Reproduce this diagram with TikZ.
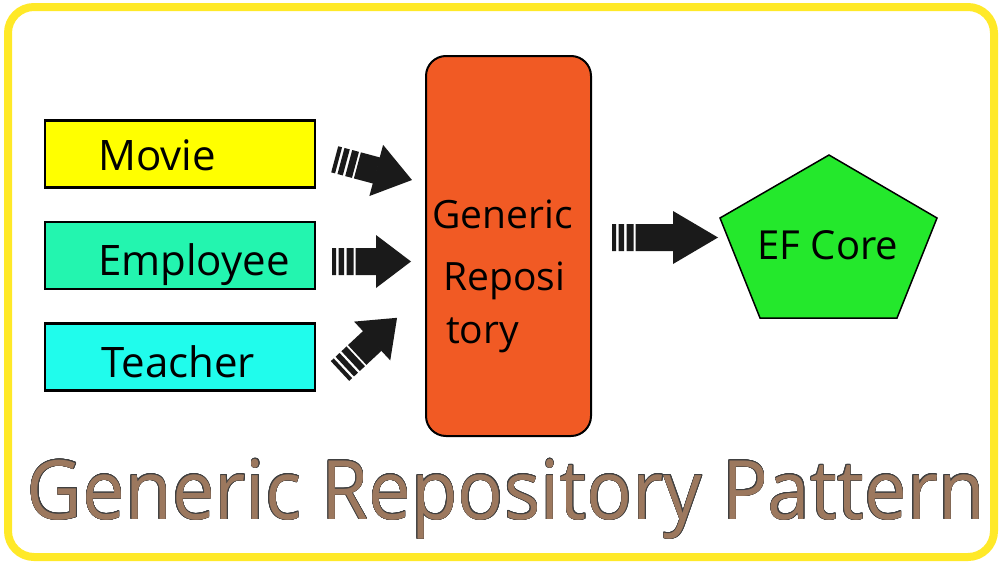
\documentclass[tikz,border=0pt]{standalone}
\usepackage{fontspec}
\setmainfont{Open Sans}
\newfontfamily\titlefont{Open Sans}[FakeStretch=0.93]
\usepackage[copies]{contour}
\contourlength{0.45pt}
\definecolor{frameyellow}{RGB}{255,233,40}
\definecolor{movieyellow}{RGB}{255,255,0}
\definecolor{employeegreen}{RGB}{35,245,175}
\definecolor{teachercyan}{RGB}{32,252,236}
\definecolor{repoorange}{RGB}{241,90,36}
\definecolor{efgreen}{RGB}{36,232,44}
\definecolor{titlebrown}{RGB}{156,120,94}
\definecolor{arrowblack}{RGB}{26,26,26}
\newcommand\stripedarrow[4]{%
  \begin{scope}[shift={(#1)}, rotate=#2]
    \fill[arrowblack] (0,-13.5) rectangle (4,13.5)
      (6.5,-13.5) rectangle (12,13.5)
      (14.5,-13.5) rectangle (21.5,13.5)
      (23.5,-13.5) rectangle ({#3-#4+0.5},13.5);
    \fill[arrowblack] ({#3-#4},-26.5) -- (#3,0) -- ({#3-#4},26.5) -- cycle;
  \end{scope}}
\begin{document}
\begin{tikzpicture}[x=1pt,y=-1pt,
  entity/.style={draw=black, line width=2.5pt, minimum width=270pt, minimum height=67pt, inner sep=0pt},
  lbl/.style={anchor=base west, inner sep=0pt, font=\fontsize{42}{48}\selectfont},
  repolbl/.style={anchor=base west, inner sep=0pt, font=\fontsize{39}{45}\selectfont}]
\useasboundingbox (0,0) rectangle (1000,562);
\fill[white] (0,0) rectangle (1000,562);
\draw[frameyellow, line width=8pt, rounded corners=26pt] (8,7) rectangle (994,557);
% entity boxes
\node[entity, fill=movieyellow] (movie) at (180,154) {};
\node[lbl] (movietxt) at (98,170) {Movie};
\node[entity, fill=employeegreen] (employee) at (180,255.5) {};
\node[lbl] (employeetxt) at (98,275) {Employee};
\node[entity, fill=teachercyan] (teacher) at (180,357) {};
\node[lbl] (teachertxt) at (101,377) {Teacher};
% generic repository
\node[draw=black, line width=2pt, rounded corners=20pt, fill=repoorange,
  minimum width=165pt, minimum height=380pt, inner sep=0pt] (repo) at (508.5,246) {};
\node[repolbl] (repo1) at (432,228) {Generic};
\node[repolbl] (repo2) at (443,290) {Reposi};
\node[repolbl] (repo3) at (446,343) {tory};
% EF core pentagon
\coordinate (p1) at (829,155);
\coordinate (p2) at (937,218);
\coordinate (p3) at (897,318);
\coordinate (p4) at (760,318);
\coordinate (p5) at (720,218);
\draw[fill=efgreen, line width=1.5pt, line join=miter] (p1) -- (p2) -- (p3) -- (p4) -- (p5) -- cycle;
\node[anchor=base, inner sep=0pt, font=\fontsize{40}{46}\selectfont] (ef) at (828,259) {EF Core};
% arrows
\coordinate (a1) at (334.7,159.3);
\coordinate (a2) at (332,261.5);
\coordinate (a3) at (340,371);
\coordinate (a4) at (612,237.5);
\stripedarrow{a1}{-15}{80}{37}
\stripedarrow{a2}{0}{79}{35}
\stripedarrow{a3}{43}{78}{34}
\stripedarrow{a4}{0}{106}{45}
% title
\node[anchor=base, inner sep=0pt, font=\titlefont\fontsize{82}{90}\selectfont, text=titlebrown] (title) at (506,519)
  {\contour{black!75}{Generic Repository Pattern}};
\end{tikzpicture}
\end{document}
